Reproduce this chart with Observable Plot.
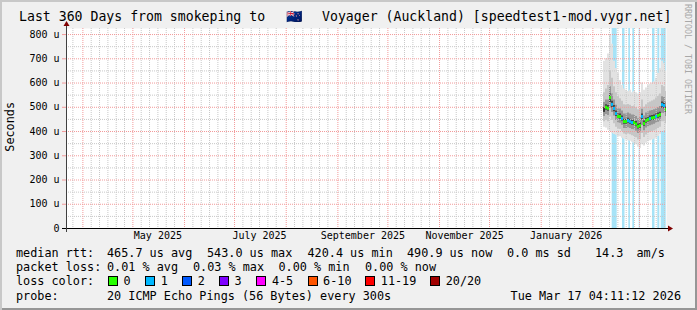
<!DOCTYPE html>
<html><head><meta charset="utf-8">
<script src="https://cdn.jsdelivr.net/npm/d3@7"></script>
<script src="https://cdn.jsdelivr.net/npm/@observablehq/plot@0.6"></script>
<style>
html,body{margin:0;padding:0;background:#fff;}
#chart{position:relative;width:697px;height:310px;background:#f0f0f0;box-shadow:inset 2px 2px 0 #c8c8c8, inset -2px -2px 0 #969696;overflow:hidden;font-family:"DejaVu Sans Mono",monospace;color:#000;}
#chart svg{position:absolute;left:0;top:0;}
.t{position:absolute;white-space:pre;line-height:14px;}
.lg{font-size:11.8px;}
.sw{position:absolute;width:8px;height:8px;border:1px solid #000;}
</style></head><body><div id="chart"></div>
<script>
// ---------------- data ----------------
const rangeStart = "2025-03-22T04:11:12Z";
const rangeEnd = "2026-03-17T04:11:12Z";
const sampleTimes = [
  "2026-02-07T09:00Z","2026-02-08T13:48Z","2026-02-09T18:36Z","2026-02-10T23:24Z",
  "2026-02-12T04:12Z","2026-02-13T09:00Z","2026-02-14T13:48Z","2026-02-15T18:36Z",
  "2026-02-16T23:24Z","2026-02-18T04:12Z","2026-02-19T09:00Z","2026-02-20T13:48Z",
  "2026-02-21T18:36Z","2026-02-22T23:24Z","2026-02-24T04:12Z","2026-02-25T09:00Z",
  "2026-02-26T13:48Z","2026-02-27T18:36Z","2026-02-28T23:24Z","2026-03-02T04:12Z",
  "2026-03-03T09:00Z","2026-03-04T13:48Z","2026-03-05T18:36Z","2026-03-06T23:24Z",
  "2026-03-08T04:12Z","2026-03-09T09:00Z","2026-03-10T13:48Z","2026-03-11T18:36Z",
  "2026-03-12T23:24Z","2026-03-14T04:12Z","2026-03-15T09:00Z","2026-03-16T13:48Z"
];
const sampleEnd = "2026-03-17T18:36Z";
// median rtt (microseconds)
const median = [489,500,496,540,512,495,474,462,462,454,441,441,445,441,437,437,
                431,421,425,462,433,445,450,454,456,458,462,466,470,511,507,491];
// lost pings out of 20 (null = unknown)
const loss = [null,0,0,0,1,1,1,0,0,1,0,0,1,1,1,0,0,0,0,1,0,0,0,1,0,0,1,0,0,1,1,0];
// smoke: ping distribution per sample (microseconds)
const smokeMax = [690,700,720,800,760,690,660,640,610,590,575,570,565,570,560,565,
                  560,555,560,600,570,580,590,595,600,605,620,640,660,690,680,650];
const smokeP90 = [560,575,590,650,620,585,560,545,535,525,510,508,512,508,503,505,
                  498,490,495,530,500,510,518,522,526,530,538,545,555,590,585,565];
const smokeP75 = [520,530,530,585,555,530,508,495,493,485,472,472,476,472,468,468,
                  462,453,457,492,464,476,481,485,487,490,494,498,503,543,540,522];
const smokeP60 = [499,510,507,555,525,507,485,472,472,464,451,451,455,451,447,447,
                  441,431,435,472,443,455,460,464,466,468,472,476,480,522,518,501];
const smokeP40 = [478,488,484,520,498,482,462,451,451,443,430,430,434,430,426,426,
                  420,410,414,448,422,434,439,443,445,447,451,455,459,496,494,480];
const smokeP25 = [462,470,466,495,478,464,446,435,434,426,413,413,416,412,408,407,
                  401,392,395,425,403,415,420,424,427,430,434,438,443,475,474,462];
const smokeP10 = [440,445,440,460,445,432,418,410,408,400,390,388,390,387,383,380,
                  374,365,366,392,375,386,392,396,399,402,406,412,418,440,440,432];
const smokeMin = [418,415,405,400,392,388,385,380,378,372,368,365,362,360,356,352,
                  345,335,330,345,340,352,358,362,365,368,372,380,388,400,402,400];
// periods with packet loss (light blue background)
const lossBandStart = ["2026-02-12T14:00Z","2026-02-18T18:30Z","2026-02-22T13:00Z","2026-02-24T23:00Z",
                       "2026-02-28T19:00Z","2026-03-08T18:30Z","2026-03-11T23:00Z","2026-03-13T23:50Z"];
const lossBandEnd   = ["2026-02-15T14:00Z","2026-02-20T06:30Z","2026-02-23T14:00Z","2026-02-25T23:30Z",
                       "2026-03-01T09:30Z","2026-03-10T06:30Z","2026-03-13T03:50Z","2026-03-16T23:50Z"];
const yTicks = [0,100,200,300,400,500,600,700,800];
const yMinor = [50,150,250,350,450,550,650,750];
const xLabelDates = ["2025-05-16","2025-07-16","2025-09-16","2025-11-16","2026-01-16"];
const xLabelTexts = ["May 2025","July 2025","September 2025","November 2025","January 2026"];
const lossLevels = ["0","1","2","3","4-5","6-10","11-19","20/20"];
const lossColors = ["#26ff00","#00b8ff","#0059ff","#7e00ff","#ff00ff","#ff5500","#ff0000","#a10000"];
const titleText = ["Last 360 Days from smokeping to ", "🇳🇿", " Voyager (Auckland) [speedtest1-mod.vygr.net]"];
const legendMedian = ["median rtt:","465.7 us avg","543.0 us max","420.4 us min","490.9 us now","0.0 ms sd","14.3","am/s"];
const legendLoss = ["packet loss:","0.01 % avg","0.03 % max","0.00 % min","0.00 % now"];
const legendProbe = ["probe:","20 ICMP Echo Pings (56 Bytes) every 300s","Tue Mar 17 04:11:12 2026"];

// ---------------- tables ----------------
const smokeRows = sampleTimes.map((t,i)=>({t:new Date(t),min:smokeMin[i],p10:smokeP10[i],p25:smokeP25[i],p40:smokeP40[i],
  p60:smokeP60[i],p75:smokeP75[i],p90:smokeP90[i],max:smokeMax[i]}));
smokeRows.push({...smokeRows[smokeRows.length-1], t:new Date(sampleEnd)});
const medRows = sampleTimes.map((t,i)=>({t0:new Date(t), t1:new Date(i+1<sampleTimes.length?sampleTimes[i+1]:sampleEnd), med:median[i], loss:loss[i]}));
const bands = lossBandStart.map((s,i)=>({from:new Date(s), to:new Date(lossBandEnd[i])}));
const xLabelRows = xLabelDates.map((d,i)=>({date:new Date(d+"T00:00Z"), label:xLabelTexts[i]}));
const x0 = new Date(rangeStart), x1 = new Date(rangeEnd);
const majorX = d3.utcMonth.range(x0, x1);
const minorX = d3.utcDay.range(x0, x1).filter(d=>[6,11,16,21,26].includes(d.getUTCDate()));

const lossColor = l => l == null ? "#333" : l === 0 ? lossColors[0] : l === 1 ? lossColors[1] : l === 2 ? lossColors[2] :
  l === 3 ? lossColors[3] : l <= 5 ? lossColors[4] : l <= 10 ? lossColors[5] : l <= 19 ? lossColors[6] : lossColors[7];

const MGRID = "#f29a9a", GRID = "#c8c8c8";

function axesDecor(index, scales, values, dims) {
  const L = dims.marginLeft, R = dims.width - dims.marginRight, B = dims.height - dims.marginBottom, T = dims.marginTop;
  const g = d3.create("svg:g");
  g.append("line").attr("x1", L-4).attr("x2", R+3).attr("y1", B+0.5).attr("y2", B+0.5).attr("stroke", "#000");
  g.append("line").attr("x1", L+0.5).attr("x2", L+0.5).attr("y1", B+4).attr("y2", T-3).attr("stroke", "#404040");
  g.append("path").attr("d", `M${L-2.5},${T-2}L${L+3.5},${T-2}L${L+0.5},${T-7}Z`).attr("fill", "#7f0000");
  g.append("path").attr("d", `M${R+2},${B-2.5}L${R+2},${B+3.5}L${R+7},${B+0.5}Z`).attr("fill", "#7f0000");
  return g.node();
}

const chart = Plot.plot({
  width: 697, height: 250,
  marginLeft: 66, marginRight: 31, marginTop: 28, marginBottom: 22,
  x: {type: "utc", domain: [x0, x1], axis: null},
  y: {domain: [0, 825], axis: null},
  style: {background: "transparent", fontFamily: "DejaVu Sans Mono", fontSize: "10px", color: "#000"},
  marks: [
    Plot.frame({fill: "#fff", stroke: null}),
    Plot.rect(bands, {x1: "from", x2: "to", fill: "#a6e3f7", clip: true}),
    Plot.areaY(smokeRows, {x: "t", y1: "min", y2: "max", fill: "#e2e2e2", curve: "step-after", clip: true}),
    Plot.areaY(smokeRows, {x: "t", y1: "p10", y2: "p90", fill: "#c6c6c6", curve: "step-after", clip: true}),
    Plot.areaY(smokeRows, {x: "t", y1: "p25", y2: "p75", fill: "#969696", curve: "step-after", clip: true}),
    Plot.areaY(smokeRows, {x: "t", y1: "p40", y2: "p60", fill: "#474747", curve: "step-after", clip: true}),
    Plot.ruleY(yMinor, {stroke: GRID, strokeDasharray: "1,1"}),
    Plot.ruleX(minorX, {stroke: GRID, strokeDasharray: "1,1"}),
    Plot.ruleY(yTicks.filter(v => v > 0), {stroke: MGRID, strokeDasharray: "1,1"}),
    Plot.ruleX(majorX, {stroke: MGRID, strokeDasharray: "1,1"}),
    Plot.ruleY(medRows, {y: "med", x1: "t0", x2: "t1", stroke: d => lossColor(d.loss), strokeWidth: 3, clip: true}),
    Plot.axisY(yTicks, {tickSize: 4, tickPadding: 3, stroke: MGRID, fill: "#000", fontSize: 10,
      tickFormat: v => v === 0 ? "0" : `${v} u`, label: null}),
    Plot.text(xLabelRows, {x: "date", text: "label", frameAnchor: "bottom", dy: 10, fontSize: 10, fill: "#000"}),
    axesDecor
  ]
});

// ---------------- page ----------------
const root = document.getElementById("chart");
root.appendChild(chart);
function addText(txt, left, top, cls, extra) {
  const d = document.createElement("div");
  d.className = "t " + (cls || "");
  d.textContent = txt;
  d.style.left = left + "px"; d.style.top = top + "px";
  if (extra) Object.assign(d.style, extra);
  root.appendChild(d);
  return d;
}
const title = document.createElement("div");
title.className = "t";
Object.assign(title.style, {left: "19px", top: "9px", fontSize: "13.2px", lineHeight: "16px"});
const s1 = document.createElement("span"); s1.textContent = titleText[0];
const s2 = document.createElement("span"); s2.textContent = titleText[1];
Object.assign(s2.style, {display: "inline-block", width: "41px", textAlign: "center", overflow: "hidden", verticalAlign: "bottom"});
const s3 = document.createElement("span"); s3.textContent = titleText[2];
title.append(s1, s2, s3);
root.appendChild(title);
addText("Seconds", 3, 102, "lg", {writingMode: "vertical-rl", transform: "rotate(180deg)", lineHeight: "14px"});
addText("RRDTOOL / TOBI OETIKER", 683, 4, "", {writingMode: "vertical-rl", fontSize: "8.3px", lineHeight: "10px", color: "#a8a8a8"});
const rowTop = [246, 260, 274, 289];
const medX = [16, 107, 207, 307.5, 407, 507, 595, 636.5];
legendMedian.forEach((s, i) => addText(s, medX[i], rowTop[0], "lg"));
const lossX = [16, 107, 193, 278.5, 365];
legendLoss.forEach((s, i) => addText(s, lossX[i], rowTop[1], "lg"));
addText("loss color:", 16, rowTop[2], "lg");
const swX = [108, 145.3, 182.2, 219.1, 256.4, 307.6, 365.3, 430.2];
lossLevels.forEach((s, i) => {
  const b = document.createElement("div");
  b.className = "sw";
  Object.assign(b.style, {left: swX[i] + "px", top: (rowTop[2] + 2) + "px", background: lossColors[i]});
  root.appendChild(b);
  addText(s, swX[i] + 15.5, rowTop[2], "lg");
});
addText(legendProbe[0], 16, rowTop[3], "lg");
addText(legendProbe[1], 107, rowTop[3], "lg");
addText(legendProbe[2], 0, rowTop[3], "lg", {left: "auto", right: "16px"});
</script></body></html>
